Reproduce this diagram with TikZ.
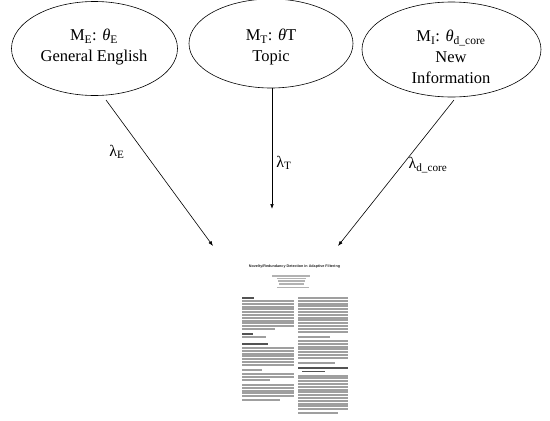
\documentclass[tikz,border=0pt]{standalone}
\usepackage{fontspec}
\setmainfont{Liberation Serif}
\newfontfamily\docsans{Liberation Sans}
\usetikzlibrary{shapes.geometric,arrows.meta}
\begin{document}
\begin{tikzpicture}[x=1pt,y=-1pt,
  model/.style={draw,ellipse,line width=0.6pt,inner sep=0pt},
  mtext/.style={align=center,font=\fontsize{16.5}{21}\selectfont,inner sep=0pt},
  lam/.style={font=\fontsize{16}{18}\selectfont,inner sep=0pt},
  arr/.style={line width=0.6pt,-{Latex[length=5pt,width=3.6pt]}},
  txt/.style={draw=gray!75,line width=2pt},
  hd/.style={draw=gray!65!black,line width=1.8pt}]
\useasboundingbox (0,0) rectangle (550,421);
\fill[white] (0,0) rectangle (550,421);
% models
\node[model,minimum width=166pt,minimum height=94pt] (e1) at (94.5,48.5) {};
\node[model,minimum width=164pt,minimum height=89pt] (e2) at (271,43.5) {};
\node[model,minimum width=179pt,minimum height=95pt] (e3) at (451.5,49.5) {};
\node[mtext] (t1) at (94,47) {M\textsubscript{E}: \textit{θ}\textsubscript{E}\\General English};
\node[mtext] (t2) at (271,47) {M\textsubscript{T}: \textit{θ}T\\Topic};
\node[mtext] (t3) at (451,57) {M\textsubscript{I}: \textit{θ}\textsubscript{d\_core}\\New\\Information};
% connector ends
\coordinate (s1) at (106,100);
\coordinate (d1) at (213,246);
\coordinate (s2) at (272,88);
\coordinate (d2) at (272,209);
\coordinate (s3) at (454,100);
\coordinate (d3) at (338,246);
\draw[arr] (s1) -- (d1);
\draw[arr] (s2) -- (d2);
\draw[arr] (s3) -- (d3);
\node[lam] (l1) at (117,152) {λ\textsubscript{E}};
\node[lam] (l2) at (284,163) {λ\textsubscript{T}};
\node[lam] (l3) at (428,165) {λ\textsubscript{d\_core}};
% document thumbnail
\node[inner sep=0pt,text=gray!30!black,font=\docsans\bfseries\fontsize{3.7}{4.4}\selectfont] (doc) at (294.5,267) {Novelty/Redundancy Detection in Adaptive Filtering};
\draw[draw=gray!60,line width=1.5pt] (272,276) -- (310,276);
\draw[draw=gray!60,line width=1.5pt] (277,278.6) -- (306,278.6);
\draw[draw=gray!60,line width=1.5pt] (278,281.2) -- (305,281.2);
\draw[draw=gray!60,line width=1.5pt] (279,283.8) -- (304,283.8);
\draw[draw=gray!60,line width=1.5pt] (277,287.5) -- (309,287.5);
% left column
\draw[hd] (242,298) -- (254,298);
\foreach \y in {301,303.8,...,326.3} \draw[txt] (242,\y) -- (294,\y);
\draw[txt] (242,329) -- (275,329);
\draw[hd] (242,334) -- (253,334);
\draw[txt] (242,337) -- (266,337);
\draw[hd] (242,344) -- (268,344);
\foreach \y in {348,350.8,...,367} \draw[txt] (242,\y) -- (294,\y);
\draw[txt] (242,370) -- (262,370);
\foreach \y in {374,376.8} \draw[txt] (242,\y) -- (294,\y);
\draw[txt] (242,379.6) -- (270,379.6);
\foreach \y in {385,387.8,...,397} \draw[txt] (242,\y) -- (294,\y);
\draw[txt] (242,400) -- (280,400);
% right column
\foreach \y in {298,300.8,...,333} \draw[txt] (298,\y) -- (348,\y);
\draw[txt] (298,336.5) -- (330,336.5);
\foreach \y in {341,343.8,...,360} \draw[txt] (298,\y) -- (348,\y);
\draw[txt] (298,363) -- (335,363);
\draw[hd] (298,368) -- (348,368);
\draw[hd] (302,371.5) -- (325,371.5);
\foreach \y in {375.5,378.3,...,410} \draw[txt] (298,\y) -- (348,\y);
\draw[txt] (298,412.5) -- (338,412.5);
\end{tikzpicture}
\end{document}
